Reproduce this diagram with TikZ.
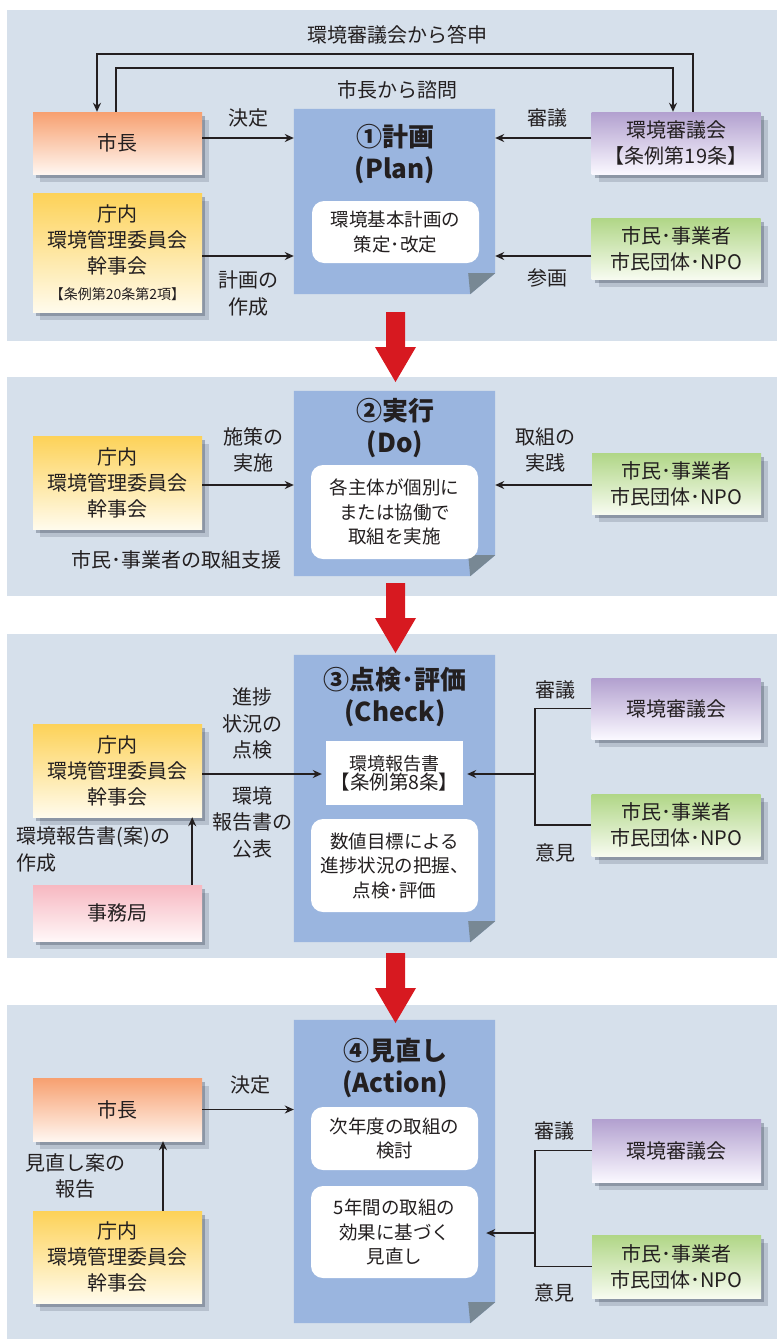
\documentclass[tikz,border=0pt]{standalone}
\usepackage{fontspec}
\setmainfont{Noto Sans CJK JP}
\usepackage{tikz}
\usetikzlibrary{arrows.meta,shadows}
\definecolor{panelbg}{RGB}{214,224,235}
\definecolor{docblue}{RGB}{154,181,223}
\definecolor{foldgray}{RGB}{120,136,148}
\definecolor{ink}{RGB}{35,31,32}
\definecolor{flowred}{RGB}{215,25,32}
\definecolor{shadowink}{RGB}{60,70,90}
\definecolor{mayortop}{RGB}{247,160,112}
\definecolor{mayorbot}{RGB}{255,246,240}
\definecolor{stafftop}{RGB}{253,210,88}
\definecolor{staffbot}{RGB}{255,251,236}
\definecolor{counciltop}{RGB}{178,160,207}
\definecolor{councilbot}{RGB}{250,248,255}
\definecolor{citizentop}{RGB}{176,214,134}
\definecolor{citizenbot}{RGB}{247,251,240}
\definecolor{officetop}{RGB}{247,184,193}
\definecolor{officebot}{RGB}{255,247,248}

\begin{document}
\begin{tikzpicture}[x=1pt,y=-1pt,doc/.style={inner sep=0pt,minimum width=201pt},title/.style={align=center,text=ink,font=\bfseries\fontsize{26}{32}\selectfont},note/.style={fill=white,rounded corners=12pt,minimum width=167pt,inner sep=0pt,align=center,text=ink,font=\fontsize{18.5}{24.5}\selectfont},lbl/.style={align=center,text=ink,font=\fontsize{20}{26.5}\selectfont},actor/.style n args={3}{top color=#1,bottom color=#2,minimum height=#3,minimum width=169pt,inner sep=0pt,align=center,text=ink,font=\fontsize{20}{26}\selectfont,drop shadow={shadow xshift=3pt,shadow yshift=-4pt,fill=shadowink,opacity=.35},drop shadow={shadow xshift=7pt,shadow yshift=-8pt,fill=shadowink,opacity=.2}},conn/.style={draw=ink,line width=1.8pt,-{Stealth[length=9pt,width=8pt]}},wire/.style={draw=ink,line width=1.8pt},flow/.style={fill=flowred}]
\useasboundingbox (0,0) rectangle (777,1339);
\foreach \ta/\tb in %
{10/341,377/596,634/958,1005/1339} {
   \fill[panelbg] (7,\ta) rectangle (777,\tb);
}
\node[doc,minimum height=185pt] (planDoc) at (394.5,201.5) {};
\node[doc,minimum height=185pt] (doDoc) at (394.5,483.5) {};
\node[doc,minimum height=287pt] (checkDoc) at (394.5,798.5) {};
\node[doc,minimum height=303pt] (actDoc) at (394.5,1171.5) {};
\foreach \d in %
{planDoc,doDoc,checkDoc,actDoc} {
   \fill[docblue] (\d.north west) -- (\d.north east) -- ([yshift=21pt]\d.south east) -- ([xshift=-25pt]\d.south east) -- (\d.south west) -- cycle;
   \fill[foldgray] ([xshift=-27pt,yshift=21pt]\d.south east) -- ([yshift=21pt]\d.south east) -- ([xshift=-25pt]\d.south east) -- cycle;
}
\foreach \ya in %
{312,583,953} {
   \fill[flow,shift={(395.5,\ya)}] (-9.5,0) -- (9.5,0) -- (9.5,35) -- (20.5,35) -- (0,70) -- (-20.5,35) -- (-9.5,35) -- cycle;
}

\node[title] (planTitle) at (395,154) {①計画\\(Plan)};
\node[note,minimum height=62pt] (planNote) at (395.5,232) {環境基本計画の\\策定･改定};
\node[actor={mayortop}{mayorbot}{62pt}] (mayorA) at (117.5,143) {市長};
\node[actor={stafftop}{staffbot}{119pt}] (kanjiA) at (117.5,252.5) {庁内\\環境管理委員会\\幹事会\\{\fontsize{14}{20}\selectfont【条例第20条第2項】}};
\node[actor={counciltop}{councilbot}{62pt}] (councilA) at (676,143) {環境審議会\\【条例第19条】};
\node[actor={citizentop}{citizenbot}{61pt}] (citizenA) at (676,248.5) {市民･事業者\\市民団体･NPO};
\node[lbl] (lblReply) at (397,35) {環境審議会から答申};
\node[lbl] (lblInquiry) at (397,90) {市長から諮問};
\node[lbl] (lblDecideA) at (248,118) {決定};
\node[lbl] (lblDraftA) at (248,293.5) {計画の\\作成};
\node[lbl] (lblReviewA) at (547,118) {審議};
\node[lbl] (lblJoinA) at (547,278) {参画};
\draw[conn] ([yshift=5pt]mayorA.east) -- ([yshift=5pt]mayorA.east -| planDoc.west);
\draw[conn] ([yshift=-3.5pt]kanjiA.east) -- ([yshift=-3.5pt]kanjiA.east -| planDoc.west);
\draw[conn] ([yshift=5pt]councilA.west) -- ([yshift=5pt]councilA.west -| planDoc.east);
\draw[conn] ([yshift=-7.5pt]citizenA.west) -- ([yshift=-7.5pt]citizenA.west -| planDoc.east);
\draw[conn] ([xshift=17pt]councilA.north) -- ++(0,-58) -| ([xshift=-20.5pt]mayorA.north);
\draw[conn] ([xshift=-1.5pt]mayorA.north) -- ++(0,-44) -| ([xshift=-3pt]councilA.north);

\node[title] (doTitle) at (395,428.5) {②実行\\(Do)};
\node[note,minimum height=94pt] (doNote) at (394.5,512) {各主体が個別に\\または協働で\\取組を実施};
\node[actor={stafftop}{staffbot}{93pt}] (kanjiB) at (117.5,482.5) {庁内\\環境管理委員会\\幹事会};
\node[actor={citizentop}{citizenbot}{61pt}] (citizenB) at (676.5,483.5) {市民･事業者\\市民団体･NPO};
\node[lbl] (lblDoL) at (253,450) {施策の\\実施};
\node[lbl] (lblDoR) at (545,450) {取組の\\実践};
\node[lbl] (lblSupport) at (176,560) {市民･事業者の取組支援};
\draw[conn] ([yshift=-2.5pt]kanjiB.east) -- ([yshift=-2.5pt]kanjiB.east -| doDoc.west);
\draw[conn] ([yshift=-1.5pt]citizenB.west) -- ([yshift=-1.5pt]citizenB.west -| doDoc.east);

\node[title] (checkTitle) at (395,697.5) {③点検･評価\\(Check)};
\node[fill=white,minimum width=137pt,minimum height=64pt,inner sep=0pt,align=center,text=ink] (checkReport) at (394.5,773) {{\fontsize{18}{24}\selectfont 環境報告書}\\{\fontsize{19.5}{25}\selectfont【条例第8条】}};
\node[note,minimum height=93pt] (checkNote) at (394.5,865.5) {数値目標による\\進捗状況の把握、\\点検･評価};
\node[actor={stafftop}{staffbot}{93pt}] (kanjiC) at (117.5,770.5) {庁内\\環境管理委員会\\幹事会};
\node[actor={officetop}{officebot}{56pt}] (officeC) at (117.5,913) {事務局};
\node[actor={counciltop}{councilbot}{61pt}] (councilC) at (676,708.5) {環境審議会};
\node[actor={citizentop}{citizenbot}{62pt}] (citizenC) at (676,825) {市民･事業者\\市民団体･NPO};
\node[lbl] (lblCheck) at (252,723.5) {進捗\\状況の\\点検};
\node[lbl] (lblPublish) at (252,822) {環境\\報告書の\\公表};
\node[lbl,anchor=west,align=left] (lblMake) at (13,849.5) {環境報告書(案)の\\作成};
\node[lbl] (lblReviewC) at (555,690) {審議};
\node[lbl] (lblOpinionC) at (555,853) {意見};
\coordinate (forkC) at (535,774);
\draw[conn,shorten >=4pt] ([yshift=-3.5pt]kanjiC.east) -- ([yshift=-3.5pt]kanjiC.east -| checkReport.west);
\draw[conn] ([xshift=-10pt]officeC.north east) -- ([xshift=-10pt]kanjiC.south east);
\draw[wire] (councilC.west) -| (forkC) |- (citizenC.west);
\draw[conn,shorten >=4pt] (forkC) -- (forkC -| checkReport.east);

\node[title] (actTitle) at (395,1067.5) {④見直し\\(Action)};
\node[note,minimum height=63pt] (actNoteA) at (394.5,1138.5) {次年度の取組の\\検討};
\node[note,minimum height=92pt] (actNoteB) at (394.5,1232) {5年間の取組の\\効果に基づく\\見直し};
\node[actor={mayortop}{mayorbot}{63pt}] (mayorD) at (117.5,1109.5) {市長};
\node[actor={stafftop}{staffbot}{92pt}] (kanjiD) at (117.5,1257) {庁内\\環境管理委員会\\幹事会};
\node[actor={counciltop}{councilbot}{63pt}] (councilD) at (676.5,1150.5) {環境審議会};
\node[actor={citizentop}{citizenbot}{63pt}] (citizenD) at (676.5,1266.5) {市民･事業者\\市民団体･NPO};
\node[lbl] (lblDecideD) at (250,1085) {決定};
\node[lbl] (lblReportD) at (75,1176) {見直し案の\\報告};
\node[lbl] (lblReviewD) at (554,1131) {審議};
\node[lbl] (lblOpinionD) at (554,1293) {意見};
\coordinate (forkD) at (535,1233);
\draw[conn] (mayorD.east) -- (mayorD.east -| actDoc.west);
\draw[conn] ([xshift=45.5pt]kanjiD.north) -- ([xshift=45.5pt]mayorD.south);
\draw[wire] (councilD.west) -| (forkD) |- (citizenD.west);
\draw[conn,shorten >=8pt] (forkD) -- (forkD -| actNoteB.east);
\end{tikzpicture}
\end{document}
